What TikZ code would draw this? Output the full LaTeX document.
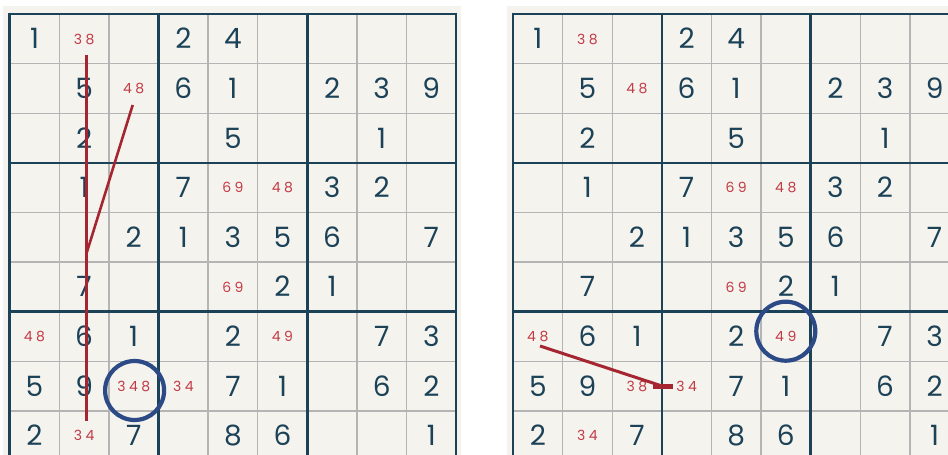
\documentclass[tikz,border=0pt]{standalone}
\usepackage{fontspec}
\setmainfont{Poppins}
\definecolor{paper}{HTML}{F5F3EE}
\definecolor{navy}{HTML}{1C4257}
\definecolor{gridgray}{HTML}{B4B4B4}
\definecolor{candred}{HTML}{C23A45}
\definecolor{linered}{HTML}{A52630}
\definecolor{ringblue}{HTML}{2B4A86}
\tikzset{
  thinline/.style={draw=gridgray,line width=1.4pt},
  thickline/.style={draw=navy,line width=2.6pt},
  given/.style={anchor=base,inner sep=0pt,text=navy,font=\fontsize{28}{28}\selectfont},
  cand/.style={anchor=base,inner sep=0pt,text=candred,font=\fontsize{14}{14}\selectfont},
  chain/.style={draw=linered,line width=3pt},
  ring/.style={draw=ringblue,line width=4.2pt,circle,minimum size=59pt,inner sep=0pt},
}
\newcommand\sdkgrid{%
  \foreach \i in {1,2,4,5,7,8}{
    \draw[thinline] (\i*49.6,0) -- (\i*49.6,446.4);
    \draw[thinline] (0,\i*49.6) -- (446.4,\i*49.6);
  }
  \foreach \i in {0,3,6,9}{
    \draw[thickline] (\i*49.6,-1.3) -- (\i*49.6,447.7);
    \draw[thickline] (-1.3,\i*49.6) -- (447.7,\i*49.6);
  }
}
\begin{document}
\begin{tikzpicture}[x=1pt,y=-1pt]
\useasboundingbox (0,0) rectangle (948,455);
\clip (0,0) rectangle (948,455);
\fill[white] (0,0) rectangle (948,455);
\fill[paper] (3,6) rectangle (461,470);
\fill[paper] (507,6) rectangle (960,470);

% ---------- left panel ----------
\begin{scope}[shift={(9.7,14)}]
  \sdkgrid
  \foreach \r/\c/\d in {1/1/1,1/4/2,1/5/4,
      2/2/5,2/4/6,2/5/1,2/7/2,2/8/3,2/9/9,
      3/2/2,3/5/5,3/8/1,
      4/2/1,4/4/7,4/7/3,4/8/2,
      5/3/2,5/4/1,5/5/3,5/6/5,5/7/6,5/9/7,
      6/2/7,6/6/2,6/7/1,
      7/2/6,7/3/1,7/5/2,7/8/7,7/9/3,
      8/1/5,8/2/9,8/5/7,8/6/1,8/8/6,8/9/2,
      9/1/2,9/3/7,9/5/8,9/6/6,9/9/1}
    \node[given] (L\r\c) at ({(\c-0.5)*49.6},{(\r-0.5)*49.6+10}) {\d};
  \foreach \r/\c/\a/\b in {1/2/3/8,2/3/4/8,4/5/6/9,4/6/4/8,6/5/6/9,7/1/4/8,7/6/4/9,8/4/3/4,9/2/3/4}
    \node[cand] (LC\r\c) at ({(\c-0.5)*49.6},{(\r-0.5)*49.6+5.3}) {\a\kern3.5pt\b};
  \node[cand] (LC83) at ({2.5*49.6},{7.5*49.6+5.3}) {3\kern3.5pt4\kern3.5pt8};
\end{scope}
\coordinate (lvtop) at (86,54.5);
\coordinate (lvbot) at (86,421);
\coordinate (lstop) at (132.7,105);
\coordinate (lsbot) at (86,255);
\draw[chain] (lvtop) -- (lvbot);
\draw[chain,line width=2.6pt] (lstop) -- (lsbot);
\node[ring] (Lring) at (134.6,390.5) {};

% ---------- right panel ----------
\begin{scope}[shift={(513,14)}]
  \sdkgrid
  \foreach \r/\c/\d in {1/1/1,1/4/2,1/5/4,
      2/2/5,2/4/6,2/5/1,2/7/2,2/8/3,2/9/9,
      3/2/2,3/5/5,3/8/1,
      4/2/1,4/4/7,4/7/3,4/8/2,
      5/3/2,5/4/1,5/5/3,5/6/5,5/7/6,5/9/7,
      6/2/7,6/6/2,6/7/1,
      7/2/6,7/3/1,7/5/2,7/8/7,7/9/3,
      8/1/5,8/2/9,8/5/7,8/6/1,8/8/6,8/9/2,
      9/1/2,9/3/7,9/5/8,9/6/6,9/9/1}
    \node[given] (R\r\c) at ({(\c-0.5)*49.6},{(\r-0.5)*49.6+10}) {\d};
  \foreach \r/\c/\a/\b in {1/2/3/8,2/3/4/8,4/5/6/9,4/6/4/8,6/5/6/9,7/1/4/8,7/6/4/9,8/3/3/8,8/4/3/4,9/2/3/4}
    \node[cand] (RC\r\c) at ({(\c-0.5)*49.6},{(\r-0.5)*49.6+5.3}) {\a\kern3.5pt\b};
\end{scope}
\coordinate (rstart) at (540,346);
\coordinate (rend) at (662,386);
\coordinate (rbarl) at (653,386);
\coordinate (rbarr) at (673,386);
\draw[chain] (rstart) -- (rend);
\draw[chain,line width=5pt] (rbarl) -- (rbarr);
\node[ring] (Rring) at (785.8,331.2) {};
\end{tikzpicture}
\end{document}
